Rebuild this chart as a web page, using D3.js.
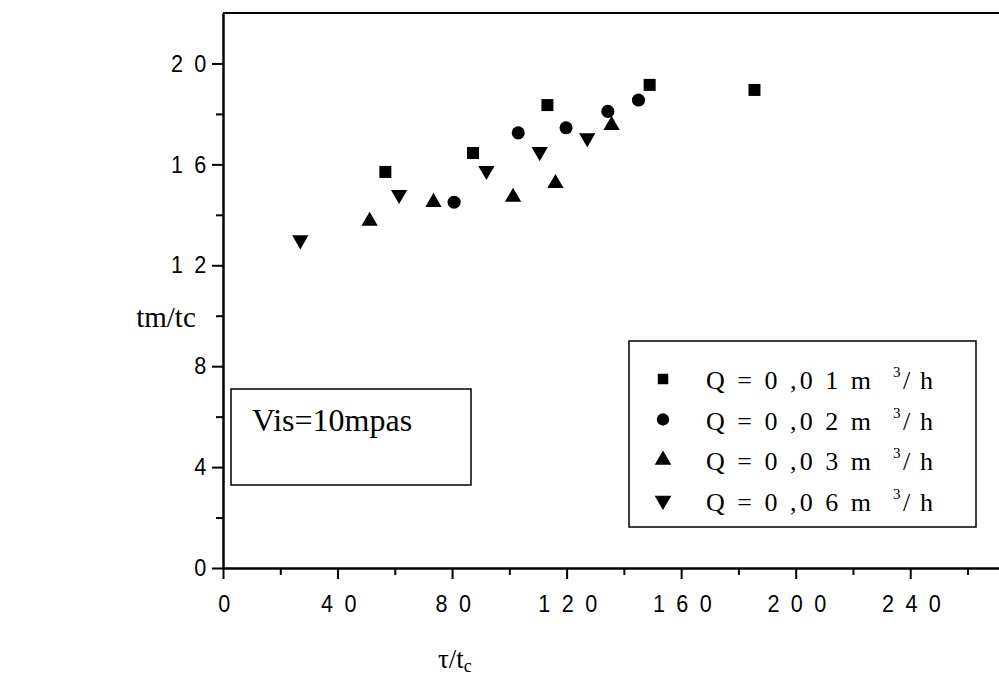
<!DOCTYPE html>
<html>
<head>
<meta charset="utf-8">
<script src="https://cdn.jsdelivr.net/npm/d3@7"></script>
<style>
  html, body { margin: 0; padding: 0; background: #fff; }
  svg { display: block; }
</style>
</head>
<body>
<svg id="chart" width="999" height="678"></svg>
<script>
// ---- data ----
const seriesNames = ["Q = 0 ,0 1 m", "Q = 0 ,0 2 m", "Q = 0 ,0 3 m", "Q = 0 ,0 6 m"];
const seriesSymbols = ["square", "circle", "triangleUp", "triangleDown"];
const q001_x = [56.7, 87.3, 113.3, 149.0, 185.6];
const q001_y = [15.7, 16.45, 18.35, 19.15, 18.95];
const q002_x = [80.7, 103.1, 119.8, 134.4, 145.1];
const q002_y = [14.5, 17.25, 17.45, 18.1, 18.55];
const q003_x = [51.2, 73.5, 101.3, 116.1, 135.7];
const q003_y = [13.75, 14.5, 14.7, 15.25, 17.55];
const q006_x = [27.0, 61.5, 92.0, 110.6, 127.2];
const q006_y = [13.0, 14.8, 15.75, 16.5, 17.05];
const xMajorTicks = [0, 40, 80, 120, 160, 200, 240];
const xMinorTicks = [20, 60, 100, 140, 180, 220, 260];
const yMajorTicks = [0, 4, 8, 12, 16, 20];
const yMinorTicks = [2, 6, 10, 14, 18];
const xTitle = "τ/t";
const xTitleSub = "c";
const yTitle = "tm/tc";
const annotation = "Vis=10mpas";

const seriesX = [q001_x, q002_x, q003_x, q006_x];
const seriesY = [q001_y, q002_y, q003_y, q006_y];

// ---- layout ----
const svg = d3.select("#chart");
const x = d3.scaleLinear().domain([0, 271]).range([223, 999]);
const y = d3.scaleLinear().domain([0, 22]).range([568, 13]);

const spaced = d => String(d).split("").join(" ");
const tickFont = "'Liberation Sans', Arial, sans-serif";
const serif = "'Liberation Serif', 'Times New Roman', serif";

function styleAxis(g) {
  g.selectAll("path.domain").attr("stroke", "#000").attr("stroke-width", 2);
  g.selectAll(".tick line").attr("stroke", "#000").attr("stroke-width", 2);
}

// x axis (major)
const gx = svg.append("g").attr("transform", `translate(0,${y(0)})`)
  .call(d3.axisBottom(x).tickValues(xMajorTicks).tickSize(11).tickSizeOuter(0).tickPadding(16).tickFormat(spaced));
styleAxis(gx);
gx.selectAll("text").attr("font-family", tickFont)
  .attr("font-size", 24).attr("fill", "#000").attr("letter-spacing", "3px")
  .attr("transform", "translate(2,0) scale(0.9,1)");
// x minor
const gxm = svg.append("g").attr("transform", `translate(0,${y(0)})`)
  .call(d3.axisBottom(x).tickValues(xMinorTicks).tickSize(7).tickSizeOuter(0).tickFormat(""));
styleAxis(gxm);

// y axis (major)
const gy = svg.append("g").attr("transform", `translate(${x(0)},0)`)
  .call(d3.axisLeft(y).tickValues(yMajorTicks).tickSize(11).tickSizeOuter(0).tickPadding(0).tickFormat(spaced));
styleAxis(gy);
gy.selectAll("text").attr("font-family", tickFont)
  .attr("font-size", 24).attr("fill", "#000").attr("letter-spacing", "3px")
  .attr("x", 0).attr("transform", "translate(-14,0) scale(0.9,1)");
const gym = svg.append("g").attr("transform", `translate(${x(0)},0)`)
  .call(d3.axisLeft(y).tickValues(yMinorTicks).tickSize(7).tickSizeOuter(0).tickFormat(""));
styleAxis(gym);

// top border
svg.append("line")
  .attr("x1", x(0)).attr("x2", x.range()[1])
  .attr("y1", y(22)).attr("y2", y(22))
  .attr("stroke", "#000").attr("stroke-width", 2);

// symbols
function symbolPath(kind) {
  if (kind === "square") return d3.symbol(d3.symbolSquare, 144)();
  if (kind === "circle") return d3.symbol(d3.symbolCircle, 135)();
  return d3.symbol(d3.symbolTriangle, 115)();
}
function symbolTransform(kind, px, py) {
  if (kind === "triangleDown") return `translate(${px},${py}) rotate(180)`;
  return `translate(${px},${py})`;
}

seriesX.forEach((xs, i) => {
  const kind = seriesSymbols[i];
  const pts = xs.map((v, j) => ({ x: v, y: seriesY[i][j] }));
  svg.append("g").selectAll("path").data(pts).join("path")
    .attr("d", symbolPath(kind))
    .attr("transform", d => symbolTransform(kind, x(d.x), y(d.y)))
    .attr("fill", "#000");
});

// axis titles
svg.append("text")
  .attr("x", 166).attr("y", 327)
  .attr("text-anchor", "middle")
  .attr("font-family", serif)
  .attr("font-size", 29).attr("fill", "#000")
  .text(yTitle);

const xt = svg.append("text")
  .attr("x", 438).attr("y", 668)
  .attr("font-family", serif)
  .attr("font-size", 27).attr("fill", "#000");
xt.append("tspan").text(xTitle);
xt.append("tspan").attr("font-size", 18).attr("dy", 4).text(xTitleSub);

// annotation box
svg.append("rect")
  .attr("x", 231).attr("y", 389).attr("width", 240).attr("height", 96)
  .attr("fill", "none").attr("stroke", "#000").attr("stroke-width", 1.5);
svg.append("text")
  .attr("x", 252).attr("y", 431)
  .attr("font-family", serif)
  .attr("font-size", 32).attr("fill", "#000")
  .text(annotation);

// legend
const lg = svg.append("g");
lg.append("rect")
  .attr("x", 629).attr("y", 341).attr("width", 347).attr("height", 186)
  .attr("fill", "none").attr("stroke", "#000").attr("stroke-width", 1.5);
seriesNames.forEach((name, i) => {
  const cy = 379 + i * 40.5;
  const kind = seriesSymbols[i];
  lg.append("path")
    .attr("d", kind === "square" ? d3.symbol(d3.symbolSquare, 110)() :
               kind === "circle" ? d3.symbol(d3.symbolCircle, 120)() :
               d3.symbol(d3.symbolTriangle, 120)())
    .attr("transform", symbolTransform(kind, 663, cy))
    .attr("fill", "#000");
  const t = lg.append("text")
    .attr("y", cy + 10)
    .attr("font-family", serif)
    .attr("font-size", 26).attr("fill", "#000");
  t.append("tspan").attr("x", 706).attr("textLength", 165).attr("lengthAdjust", "spacing").text(name);
  t.append("tspan").attr("x", 893).attr("dy", -12).attr("font-size", 15).text("3");
  t.append("tspan").attr("x", 903).attr("dy", 12).attr("textLength", 30).attr("lengthAdjust", "spacing").text("/ h");
});
</script>
</body>
</html>
